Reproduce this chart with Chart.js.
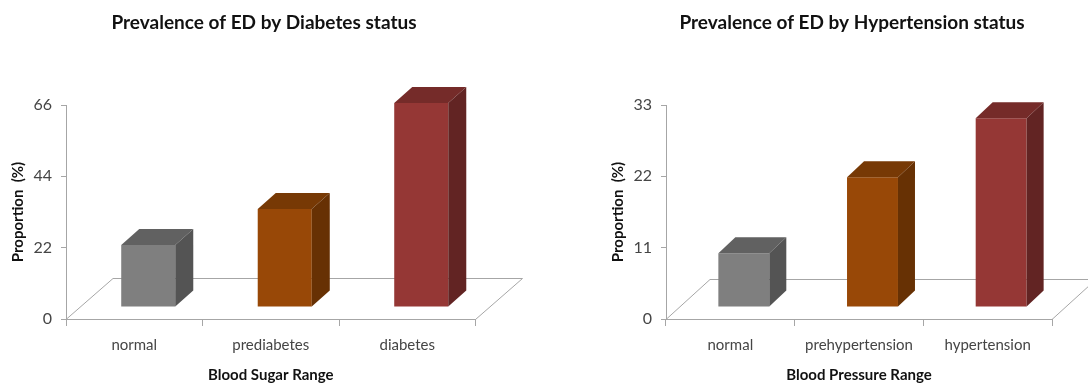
<!DOCTYPE html>
<html>
<head>
<meta charset="utf-8">
<script src="https://cdn.jsdelivr.net/npm/chart.js@4.4.1/dist/chart.umd.min.js"></script>
<style>
  html, body { margin: 0; padding: 0; background: #ffffff; overflow: hidden; width: 1088px; height: 388px; }
  canvas { position: absolute; top: 0; }
  #sugarChart { left: 0; }
  #pressureChart { left: 594px; }
</style>
</head>
<body>
<canvas id="sugarChart" width="528" height="388"></canvas>
<canvas id="pressureChart" width="516" height="388"></canvas>
<script>
// Blood sugar panel
const sugarCategories = ['normal', 'prediabetes', 'diabetes'];
const sugarValues = [19.1, 30.2, 62.9];
const sugarTicks = [0, 22, 44, 66];

// Blood pressure panel
const pressureCategories = ['normal', 'prehypertension', 'hypertension'];
const pressureValues = [8.3, 20.0, 29.1];
const pressureTicks = [0, 11, 22, 33];

// Face colours of the boxes: front, top, right side
const frontColors = ['#7f7f7f', '#984807', '#953735'];
const topColors = ['#616161', '#773905', '#752b29'];
const sideColors = ['#545454', '#673104', '#622423'];

const FONT = 'Lato, "Open Sans", "DejaVu Sans", sans-serif';
const LINE = '#a6a6a6';

// Centres the title over the whole canvas rather than the padded box.
const titleCenterPlugin = {
  id: 'titleCenter',
  afterLayout(chart) {
    const t = chart.titleBlock;
    if (t) {
      t.left = 0;
      t.right = chart.width;
      t.width = chart.width;
    }
  }
};

// Draws the floor plane, shifts the bar fronts back into the depth,
// then adds top and side faces to every bar element.
const boxPlugin = {
  id: 'box3d',
  beforeDatasetsDraw(chart, args, o) {
    const { ctx, chartArea: a } = chart;
    ctx.save();
    ctx.strokeStyle = LINE;
    ctx.lineWidth = 1;
    ctx.beginPath();
    ctx.moveTo(a.left, a.bottom + 0.5);
    ctx.lineTo(a.left + o.floor[0], a.bottom + o.floor[1] + 0.5);
    ctx.lineTo(a.right + o.floor[0], a.bottom + o.floor[1] + 0.5);
    ctx.lineTo(a.right, a.bottom + 0.5);
    ctx.stroke();
    ctx.restore();
    ctx.save();
    ctx.translate(o.front[0], o.front[1]);
  },
  afterDatasetsDraw(chart, args, o) {
    const ctx = chart.ctx;
    const [dx, dy] = o.depth;
    chart.getSortedVisibleDatasetMetas().forEach(meta => {
      meta.data.forEach((bar, i) => {
        const { x, y, base, width } = bar.getProps(['x', 'y', 'base', 'width'], true);
        const x0 = x - width / 2, x1 = x + width / 2;
        ctx.fillStyle = topColors[i];
        ctx.beginPath();
        ctx.moveTo(x0, y);
        ctx.lineTo(x1, y);
        ctx.lineTo(x1 + dx, y + dy);
        ctx.lineTo(x0 + dx, y + dy);
        ctx.closePath();
        ctx.fill();
        ctx.fillStyle = sideColors[i];
        ctx.beginPath();
        ctx.moveTo(x1, y);
        ctx.lineTo(x1, base);
        ctx.lineTo(x1 + dx, base + dy);
        ctx.lineTo(x1 + dx, y + dy);
        ctx.closePath();
        ctx.fill();
      });
    });
    ctx.restore();
  }
};

function makeChart(id, opts) {
  const maxTick = opts.ticks[opts.ticks.length - 1];
  return new Chart(document.getElementById(id), {
    type: 'bar',
    data: {
      labels: opts.categories,
      datasets: [{
        data: opts.values,
        backgroundColor: frontColors,
        borderWidth: 0,
        categoryPercentage: 1,
        barPercentage: 0.396,
        clip: false
      }]
    },
    plugins: [titleCenterPlugin, boxPlugin],
    options: {
      responsive: false,
      devicePixelRatio: 1,
      animation: false,
      events: [],
      layout: { padding: opts.padding },
      plugins: {
        legend: { display: false },
        tooltip: { enabled: false },
        title: {
          display: true,
          text: opts.title,
          color: '#111111',
          font: { family: FONT, size: 19, weight: 'bold', lineHeight: 1.2 },
          padding: { top: 11, bottom: 71.2 }
        },
        box3d: opts.box
      },
      scales: {
        x: {
          offset: true,
          grid: { offset: true, drawOnChartArea: false, color: LINE, tickLength: 7 },
          border: { color: LINE },
          ticks: { color: '#454545', padding: 10, font: { family: FONT, size: 15 } },
          title: {
            display: true,
            text: opts.xTitle,
            color: '#111111',
            font: { family: FONT, size: 15, weight: 'bold', lineHeight: 1.2 },
            padding: { top: 0, bottom: 4 }
          },
          afterFit(s) { s.height = 69; }
        },
        y: {
          min: 0,
          max: maxTick,
          afterBuildTicks(s) { s.ticks = opts.ticks.map(v => ({ value: v })); },
          grid: { drawOnChartArea: false, color: LINE, tickLength: 5 },
          border: { color: LINE },
          ticks: { color: '#454545', padding: 9, font: { family: FONT, size: 16 } },
          title: {
            display: true,
            text: 'Proportion  (%)',
            color: '#111111',
            font: { family: FONT, size: 15, weight: 'bold', lineHeight: 1.2 },
            padding: { top: 9, bottom: 0 }
          },
          afterFit(s) { s.width = 66; }
        }
      }
    }
  });
}

makeChart('sugarChart', {
  categories: sugarCategories,
  values: sugarValues,
  ticks: sugarTicks,
  title: 'Prevalence of ED by Diabetes status',
  xTitle: 'Blood Sugar Range',
  padding: { left: 0, right: 52.5, top: 0, bottom: 0 },
  box: { front: [14, -12], depth: [18, -16], floor: [47, -41] }
});

makeChart('pressureChart', {
  categories: pressureCategories,
  values: pressureValues,
  ticks: pressureTicks,
  title: 'Prevalence of ED by Hypertension status',
  xTitle: 'Blood Pressure Range',
  padding: { left: 6, right: 58, top: 0, bottom: 0 },
  box: { front: [13.5, -12], depth: [17, -16], floor: [44, -40] }
});
</script>
</body>
</html>
